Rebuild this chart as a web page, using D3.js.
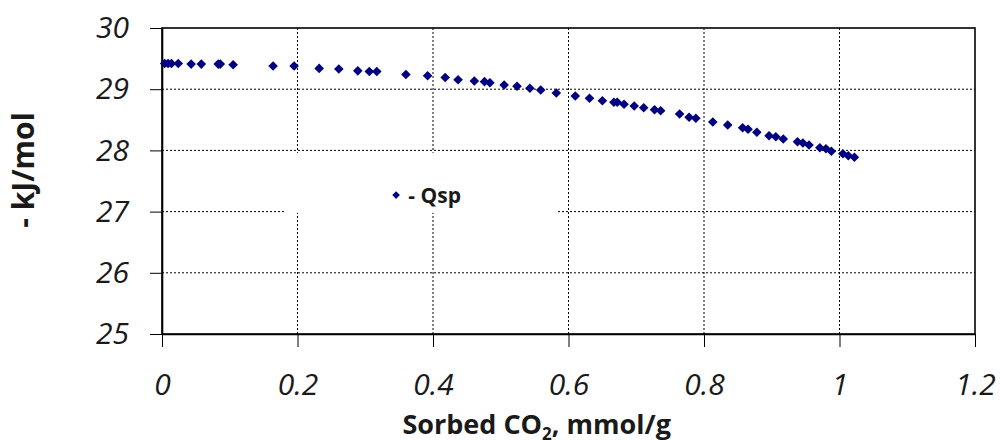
<!DOCTYPE html>
<html lang="en">
<head>
    <meta charset="UTF-8">
    <title>Qsp vs sorbed CO2</title>
    <script src="https://d3js.org/d3.v7.min.js"></script>
    <style>
        body { margin: 0; background: #fff; }
        .tick text { font-family: "Open Sans", Lato, sans-serif; font-style: italic; fill: #1a1a1a; }
    </style>
</head>
<body>
    <div id="chart"></div>
    <script>
        // sorbed CO2 (mmol/g) and -Qsp (kJ/mol)
        const sorbed = [0.004, 0.009, 0.014, 0.024, 0.043, 0.058, 0.083, 0.086, 0.105, 0.164,
            0.195, 0.232, 0.261, 0.289, 0.306, 0.317, 0.360, 0.392, 0.418, 0.437,
            0.461, 0.476, 0.484, 0.505, 0.524, 0.543, 0.559, 0.582, 0.610, 0.631,
            0.650, 0.667, 0.672, 0.682, 0.697, 0.711, 0.727, 0.736, 0.764, 0.778,
            0.788, 0.813, 0.835, 0.857, 0.865, 0.878, 0.896, 0.906, 0.917, 0.938,
            0.946, 0.955, 0.971, 0.980, 0.988, 1.005, 1.013, 1.022];
        const qsp = [29.42, 29.42, 29.42, 29.42, 29.41, 29.41, 29.41, 29.41, 29.40, 29.38,
            29.38, 29.34, 29.33, 29.30, 29.29, 29.29, 29.24, 29.22, 29.19, 29.155,
            29.134, 29.123, 29.106, 29.069, 29.047, 29.015, 28.987, 28.938, 28.889, 28.851,
            28.812, 28.786, 28.786, 28.753, 28.725, 28.698, 28.665, 28.649, 28.595, 28.541,
            28.525, 28.464, 28.415, 28.371, 28.345, 28.296, 28.240, 28.224, 28.186, 28.142,
            28.121, 28.088, 28.044, 28.028, 27.985, 27.946, 27.913, 27.887];
        const xTicks = [0, 0.2, 0.4, 0.6, 0.8, 1, 1.2];
        const yTicks = [25, 26, 27, 28, 29, 30];
        const seriesName = "- Qsp";

        const data = sorbed.map((x, i) => ({ x: x, y: qsp[i] }));

        const W = 1000, H = 441;
        const margin = { top: 28, right: 25, bottom: 107, left: 162 };
        const width = W - margin.left - margin.right;
        const height = H - margin.top - margin.bottom;
        const titleFont = "'Open Sans', Lato, sans-serif";

        const x = d3.scaleLinear().domain([0, 1.2]).range([0, width]);
        const y = d3.scaleLinear().domain([25, 30]).range([height, 0]);

        const svg = d3.select("#chart").append("svg")
            .attr("width", W)
            .attr("height", H)
            .append("g")
            .attr("transform", `translate(${margin.left},${margin.top})`);

        // gridlines
        svg.append("g")
            .selectAll("line")
            .data(yTicks.slice(1, -1))
            .join("line")
            .attr("x1", 0).attr("x2", width)
            .attr("y1", d => y(d)).attr("y2", d => y(d))
            .attr("stroke", "#000").attr("stroke-width", 1)
            .attr("stroke-dasharray", "2,2");
        svg.append("g")
            .selectAll("line")
            .data(xTicks.slice(1, -1))
            .join("line")
            .attr("y1", 0).attr("y2", height)
            .attr("x1", d => x(d)).attr("x2", d => x(d))
            .attr("stroke", "#000").attr("stroke-width", 1)
            .attr("stroke-dasharray", "2,2");

        // legend (white box over the grid)
        const legend = svg.append("g")
            .attr("transform", `translate(${x(0.183)},${y(27.96)})`);
        legend.append("rect")
            .attr("width", x(0.4) - x(0))
            .attr("height", y(26.98) - y(27.96))
            .attr("fill", "#fff");
        legend.append("path")
            .attr("transform", `translate(${x(0.3455) - x(0.183)},${y(27.27) - y(27.96)})`)
            .attr("d", "M0,-3.8L3.8,0L0,3.8L-3.8,0Z")
            .attr("fill", "#000080");
        legend.append("text")
            .attr("x", x(0.3635) - x(0.183))
            .attr("y", y(27.27) - y(27.96))
            .attr("dy", "0.36em")
            .attr("font-family", titleFont)
            .attr("font-weight", "bold")
            .attr("font-size", 21)
            .attr("fill", "#1a1a1a")
            .text(seriesName);

        // frame
        svg.append("rect")
            .attr("width", width).attr("height", height)
            .attr("fill", "none")
            .attr("stroke", "#000").attr("stroke-width", 1.6);

        // axes
        const xAxis = svg.append("g")
            .attr("transform", `translate(0,${height})`)
            .call(d3.axisBottom(x).tickValues(xTicks).tickSize(13).tickSizeOuter(0)
                .tickPadding(27).tickFormat(d3.format("")));
        const yAxis = svg.append("g")
            .call(d3.axisLeft(y).tickValues(yTicks).tickSize(12).tickSizeOuter(0)
                .tickPadding(21).tickFormat(d3.format("")));
        [xAxis, yAxis].forEach(a => {
            a.select(".domain").attr("stroke", "#000").attr("stroke-width", 1.6);
            a.selectAll(".tick line").attr("stroke", "#000").attr("stroke-width", 1);
            a.selectAll(".tick text").attr("font-size", 30);
        });

        // points
        svg.append("g")
            .selectAll("path")
            .data(data)
            .join("path")
            .attr("transform", d => `translate(${x(d.x)},${y(d.y)})`)
            .attr("d", "M0,-4.8L4.8,0L0,4.8L-4.8,0Z")
            .attr("fill", "#000080");

        // axis titles
        const xTitle = svg.append("text")
            .attr("x", x(0.553))
            .attr("y", height + 100)
            .attr("text-anchor", "middle")
            .attr("font-family", titleFont)
            .attr("font-weight", "bold")
            .attr("font-size", 27)
            .attr("fill", "#1a1a1a");
        xTitle.append("tspan").text("Sorbed CO");
        xTitle.append("tspan").attr("font-size", 17).attr("dy", 6).text("2");
        xTitle.append("tspan").attr("dy", -6).text(", mmol/g");

        svg.append("text")
            .attr("transform", `translate(${-margin.left + 34},${y(27.68)}) rotate(-90)`)
            .attr("text-anchor", "middle")
            .attr("font-family", titleFont)
            .attr("font-weight", "bold")
            .attr("font-size", 30)
            .attr("fill", "#1a1a1a")
            .text("- kJ/mol");
    </script>
</body>
</html>
